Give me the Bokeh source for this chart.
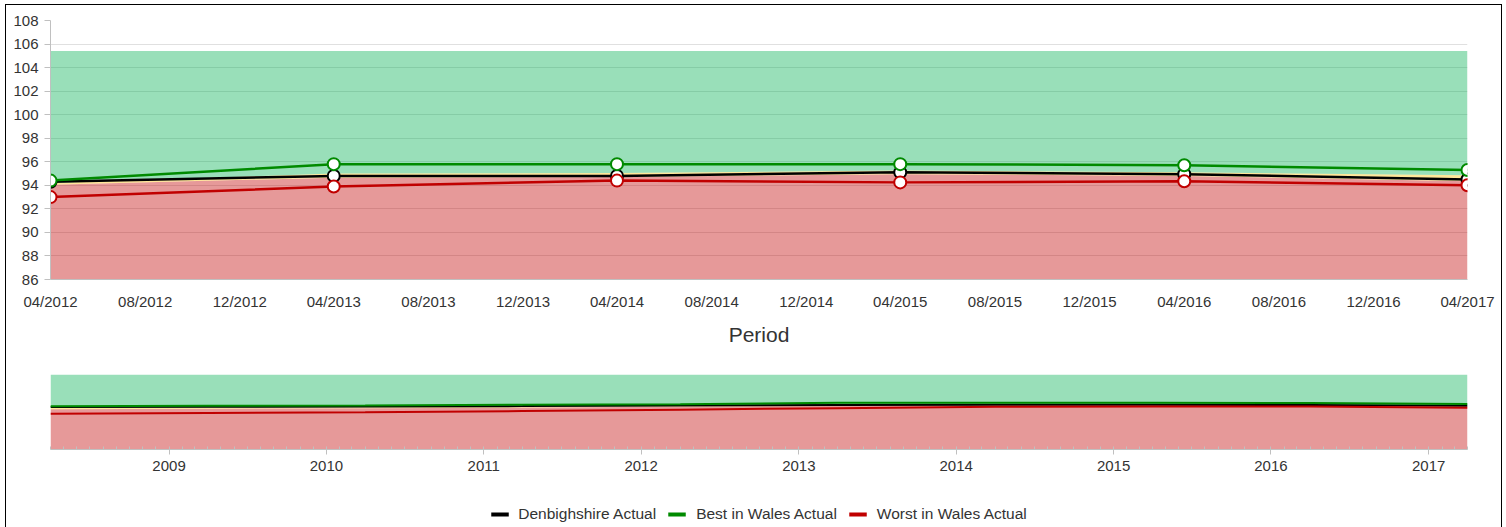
import pandas as pd
from bokeh.plotting import figure
from bokeh.layouts import column
from bokeh.models import (ColumnDataSource, MonthsTicker, FixedTicker,
                          DatetimeTickFormatter, Legend, LegendItem, Range1d)
from bokeh.embed import file_html
from bokeh.resources import INLINE

# ---------------- data (main chart) ----------------
periods = ["2012-04-01", "2013-04-01", "2014-04-01", "2015-04-01", "2016-04-01", "2017-04-01"]
denbighshire = [94.3, 94.8, 94.8, 95.1, 94.95, 94.5]
best_in_wales = [94.4, 95.8, 95.8, 95.8, 95.7, 95.3]
worst_in_wales = [93.0, 93.9, 94.4, 94.25, 94.35, 94.0]
amber_low = [94.05, 94.65, 94.7, 94.95, 94.8, 94.35]
amber_high = [94.2, 95.0, 95.05, 95.25, 95.1, 94.85]
green_top = 105.4
y_min, y_max = 86, 108
y_ticks = [86, 88, 90, 92, 94, 96, 98, 100, 102, 104, 106, 108]

# ---------------- data (navigator) ----------------
nav_periods = ["2008-04-01", "2009-04-01", "2010-04-01", "2011-04-01", "2012-04-01",
               "2013-04-01", "2014-04-01", "2015-04-01", "2016-04-01", "2017-04-01"]
nav_denbighshire = [94.4, 94.45, 94.55, 94.7, 94.9, 95.05, 95.15, 95.15, 95.1, 94.8]
nav_best = [94.65, 94.8, 94.9, 95.15, 95.3, 95.8, 95.8, 95.8, 95.75, 95.45]
nav_worst = [92.1, 92.35, 92.6, 93.0, 93.5, 94.0, 94.45, 94.55, 94.55, 94.1]
nav_amber_low = [93.65, 93.8, 93.95, 94.2, 94.45, 94.75, 94.9, 94.95, 94.9, 94.5]
nav_amber_high = [94.1, 94.2, 94.3, 94.5, 94.7, 94.95, 95.05, 95.1, 95.05, 94.7]
nav_y_min = 80.0

legend_labels = ["Denbighshire Actual", "Best in Wales Actual", "Worst in Wales Actual"]

GREEN_FILL = "#00b050"
AMBER_FILL = "#ffc000"
RED_FILL = "#c00000"
C_DEN = "#000000"
C_BEST = "#008a00"
C_WORST = "#c00000"
TXT = "#333333"
AXIS = "#c0c0c0"
FONT = "Liberation Sans"

x = pd.to_datetime(periods)
src = ColumnDataSource(dict(
    x=x, den=denbighshire, best=best_in_wales, worst=worst_in_wales,
    lo=amber_low, hi=amber_high,
    base=[y_min] * len(periods), top=[green_top] * len(periods)))

W = 1495

p = figure(width=W, height=345, x_axis_type="datetime", output_backend="svg",
           toolbar_location=None,
           x_range=Range1d(x[0], x[-1]), y_range=Range1d(y_min, y_max),
           min_border_left=44, min_border_right=34, min_border_top=15,
           min_border_bottom=71)
p.outline_line_color = None
p.background_fill_color = "white"
p.border_fill_color = "white"

p.varea(x="x", y1="base", y2="lo", source=src, fill_color=RED_FILL, fill_alpha=0.4)
p.varea(x="x", y1="lo", y2="hi", source=src, fill_color=AMBER_FILL, fill_alpha=0.4)
p.varea(x="x", y1="hi", y2="top", source=src, fill_color=GREEN_FILL, fill_alpha=0.4)

for col, c in (("den", C_DEN), ("best", C_BEST), ("worst", C_WORST)):
    p.line(x="x", y=col, source=src, line_color=c, line_width=2.5)
    p.scatter(x="x", y=col, source=src, size=12, fill_color="white",
              line_color=c, line_width=2)

p.xgrid.visible = False
p.ygrid.grid_line_color = "#e0e0e0"
p.ygrid.ticker = FixedTicker(ticks=y_ticks)

p.yaxis.ticker = FixedTicker(ticks=y_ticks)
p.yaxis.axis_line_color = AXIS
p.yaxis.major_tick_line_color = AXIS
p.yaxis.major_tick_out = 6
p.yaxis.major_tick_in = 0
p.yaxis.minor_tick_line_color = None
p.yaxis.major_label_standoff = 6
p.yaxis.major_label_text_font = FONT
p.yaxis.major_label_text_font_size = "15px"
p.yaxis.major_label_text_color = TXT

p.xaxis.ticker = MonthsTicker(months=[3, 7, 11])
fmt = "%m/%Y"
p.xaxis.formatter = DatetimeTickFormatter(years=fmt, months=fmt, days=fmt,
                                          hours=fmt, minutes=fmt, seconds=fmt)
p.xaxis.axis_line_color = AXIS
p.xaxis.major_tick_line_color = None
p.xaxis.minor_tick_line_color = None
p.xaxis.major_tick_out = 0
p.xaxis.major_tick_in = 0
p.xaxis.major_label_standoff = 13
p.xaxis.major_label_text_font = FONT
p.xaxis.major_label_text_font_size = "15px"
p.xaxis.major_label_text_color = TXT
p.xaxis.axis_label = "Period"
p.xaxis.axis_label_text_font = FONT
p.xaxis.axis_label_text_font_size = "21px"
p.xaxis.axis_label_text_font_style = "normal"
p.xaxis.axis_label_text_color = TXT
p.xaxis.axis_label_standoff = 10

# ---------------- navigator ----------------
nx = pd.to_datetime(nav_periods)
nsrc = ColumnDataSource(dict(
    x=nx, den=nav_denbighshire, best=nav_best, worst=nav_worst,
    lo=nav_amber_low, hi=nav_amber_high,
    base=[nav_y_min] * len(nav_periods), top=[green_top] * len(nav_periods)))

n = figure(width=W, height=130, x_axis_type="datetime", output_backend="svg",
           toolbar_location=None,
           x_range=Range1d(nx[0], nx[-1]), y_range=Range1d(nav_y_min, green_top),
           min_border_left=44, min_border_right=34, min_border_top=24,
           min_border_bottom=31)
n.outline_line_color = None
n.background_fill_color = "white"
n.border_fill_color = "white"

n.varea(x="x", y1="base", y2="lo", source=nsrc, fill_color=RED_FILL, fill_alpha=0.4)
n.varea(x="x", y1="lo", y2="hi", source=nsrc, fill_color=AMBER_FILL, fill_alpha=0.4)
n.varea(x="x", y1="hi", y2="top", source=nsrc, fill_color=GREEN_FILL, fill_alpha=0.4)
n.line(x="x", y="den", source=nsrc, line_color=C_DEN, line_width=2)
n.line(x="x", y="best", source=nsrc, line_color=C_BEST, line_width=2)
n.line(x="x", y="worst", source=nsrc, line_color=C_WORST, line_width=2)

n.grid.visible = False
n.yaxis.visible = False

years = pd.date_range("2009-01-01", "2017-01-01", freq="YS")
months = pd.date_range(nx[0], nx[-1], freq="MS")
to_ms = lambda d: d.value / 1e6
n.xaxis.ticker = FixedTicker(ticks=[to_ms(d) for d in years],
                             minor_ticks=[to_ms(d) for d in months])
yf = "%Y"
n.xaxis.formatter = DatetimeTickFormatter(years=yf, months=yf, days=yf,
                                          hours=yf, minutes=yf, seconds=yf)
n.xaxis.axis_line_color = AXIS
n.xaxis.major_tick_line_color = AXIS
n.xaxis.minor_tick_line_color = AXIS
n.xaxis.major_tick_in = 2
n.xaxis.major_tick_out = 5
n.xaxis.minor_tick_in = 3
n.xaxis.minor_tick_out = 0
n.xaxis.major_label_standoff = 6
n.xaxis.major_label_text_font = FONT
n.xaxis.major_label_text_font_size = "15px"
n.xaxis.major_label_text_color = TXT

# ---------------- legend strip ----------------
# the legend renderers reuse the navigator data, kept out of this strip's
# visible y range so only their legend symbols show
lg = figure(width=W, height=47, output_backend="svg", toolbar_location=None,
            x_axis_location=None, y_axis_location=None,
            x_range=Range1d(nx[0], nx[-1]), y_range=Range1d(0, 1),
            min_border=0, min_border_left=0, min_border_right=18,
            min_border_top=0, min_border_bottom=0)
lg.outline_line_color = None
lg.grid.visible = False
lg.border_fill_color = "white"
items = []
for label, col, c in zip(legend_labels, ("den", "best", "worst"), (C_DEN, C_BEST, C_WORST)):
    r = lg.line(x="x", y=col, source=nsrc, line_color=c, line_width=4)
    items.append(LegendItem(label=label, renderers=[r]))
legend = Legend(items=items, orientation="horizontal", location="bottom_center",
                border_line_color=None, background_fill_alpha=0,
                label_text_font=FONT, label_text_font_size="15.5px",
                label_text_color=TXT, glyph_width=18, glyph_height=16,
                label_standoff=10, spacing=12, padding=4, margin=4,
                label_height=16)
lg.add_layout(legend, "center")

layout = column(p, n, lg, spacing=0,
                styles={"border": "1px solid black", "margin-left": "5px",
                        "margin-top": "4px"})

open("out.html", "w").write(file_html(layout, INLINE))
